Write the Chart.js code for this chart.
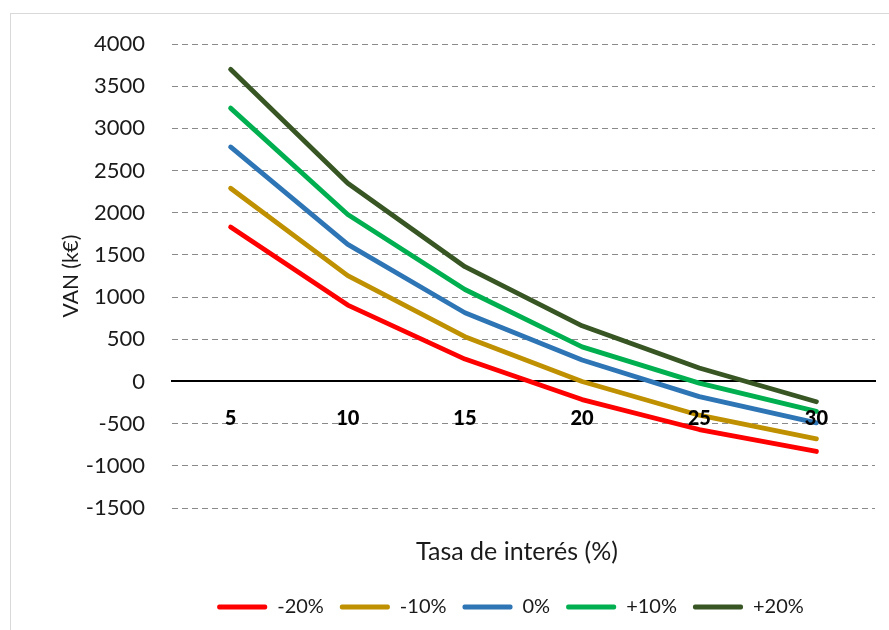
<!DOCTYPE html>
<html>
<head>
<meta charset="utf-8">
<script src="https://cdn.jsdelivr.net/npm/chart.js@4.4.1/dist/chart.umd.min.js"></script>
<style>
  html, body { margin: 0; padding: 0; background: #fff; }
  #wrap { position: relative; width: 889px; height: 630px; overflow: hidden; }
  #frame { position: absolute; left: 10px; top: 13px; width: 900px; height: 640px; border: 1px solid #d9d9d9; }
  #c { position: absolute; left: 0; top: 0; }
</style>
</head>
<body>
<div id="wrap">
  <div id="frame"></div>
  <canvas id="c" width="889" height="630"></canvas>
</div>
<script>
// Interest rate (%) on the category axis
const rates = ['5', '10', '15', '20', '25', '30'];

// Series names (variation of cash flows)
const seriesNames = ['-20%', '-10%', '0%', '+10%', '+20%'];

// Net present value (k€) for each scenario
const vanMinus20 = [1830, 905, 265, -215, -570, -830];
const vanMinus10 = [2290, 1255, 530, 0, -400, -680];
const vanBase    = [2780, 1625, 815, 255, -180, -490];
const vanPlus10  = [3240, 1980, 1090, 410, -20, -355];
const vanPlus20  = [3700, 2350, 1360, 660, 160, -240];

// Value axis range and tick step
const yMin = -1500;
const yMax = 4000;
const yStep = 500;

const seriesColors = ['#ff0000', '#bf9000', '#2e75b6', '#00b050', '#375623'];
const seriesValues = [vanMinus20, vanMinus10, vanBase, vanPlus10, vanPlus20];

const datasets = seriesNames.map((name, i) => ({
  label: name,
  data: seriesValues[i],
  borderColor: seriesColors[i],
  backgroundColor: seriesColors[i],
  xAxisID: 'x',
  yAxisID: 'y'
}));

const FONT = 'Lato, "Open Sans", sans-serif';

// Centre the legend and the axis title under the value labels + plot
const bottomSpan = {
  id: 'bottomSpan',
  afterLayout(chart) {
    if (chart.legend) {
      chart.legend.left = 146;
      chart.legend.right = chart.chartArea.right;
    }
    const t = chart.scales.xTitle;
    if (t) {
      t.left = 159;
    }
  }
};

new Chart(document.getElementById('c'), {
  type: 'line',
  data: { labels: rates, datasets },
  plugins: [bottomSpan],
  options: {
    responsive: false,
    animation: false,
    layout: { padding: { top: 44, right: 14, bottom: 3, left: 0 } },
    elements: {
      point: { radius: 0, hoverRadius: 0 },
      line: { tension: 0, borderWidth: 4.8, borderCapStyle: 'round', borderJoinStyle: 'round' }
    },
    plugins: {
      tooltip: { enabled: false },
      legend: {
        position: 'bottom',
        labels: {
          boxWidth: 50,
          boxHeight: 5,
          padding: 16,
          color: '#1a1a1a',
          font: { family: FONT, size: 20 },
          useBorderRadius: true,
          borderRadius: 2,
          generateLabels(chart) {
            const items = Chart.defaults.plugins.legend.labels.generateLabels(chart);
            items.forEach(it => { it.lineWidth = 0; it.fillStyle = it.strokeStyle; });
            return items;
          }
        }
      }
    },
    scales: {
      // category axis drawn across the zero line, labels above the series
      x: {
        type: 'category',
        position: { y: 0 },
        offset: true,
        grid: { display: false, drawTicks: false },
        border: { display: true, color: '#000', width: 2 },
        ticks: {
          z: 1,
          padding: 25,
          color: '#000',
          autoSkip: false,
          maxRotation: 0,
          font: { family: FONT, size: 20, weight: '900' }
        }
      },
      // bottom axis carrying only the title
      xTitle: {
        type: 'category',
        axis: 'x',
        position: 'bottom',
        offset: true,
        grid: { display: false, drawTicks: false },
        border: { display: false },
        ticks: { display: false },
        title: {
          display: true,
          text: 'Tasa de interés (%)',
          color: '#1a1a1a',
          font: { family: FONT, size: 25 },
          padding: { top: 29, bottom: 14 }
        }
      },
      y: {
        min: yMin,
        max: yMax,
        ticks: {
          stepSize: yStep,
          padding: 27,
          color: '#1a1a1a',
          font: { family: FONT, size: 22 },
          callback: (v) => String(v)
        },
        grid: { color: '#8a8a8a', lineWidth: 1, drawTicks: false },
        border: { display: false, dash: [6, 4] },
        title: {
          display: true,
          text: 'VAN (k€)',
          color: '#1a1a1a',
          font: { family: FONT, size: 21 },
          padding: { top: 58.5, bottom: 0 }
        },
        afterFit(scale) { scale.width = 172; }
      }
    }
  }
});
</script>
</body>
</html>
